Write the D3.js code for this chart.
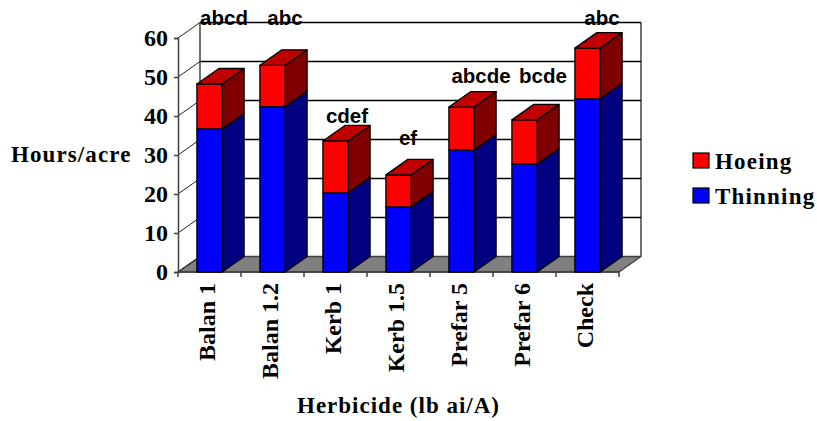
<!DOCTYPE html>
<html><head><meta charset="utf-8">
<script src="https://cdnjs.cloudflare.com/ajax/libs/d3/7.8.5/d3.min.js"></script>
<style>html,body{margin:0;padding:0;background:#fff}svg{display:block}
.serif{font-family:"Liberation Serif",serif;font-weight:bold;fill:#000}
.sans{font-family:"Liberation Sans",sans-serif;font-weight:bold;fill:#000}</style>
</head><body><svg id="c" width="817" height="421"></svg>
<script>
const categories=["Balan 1","Balan 1.2","Kerb 1","Kerb 1.5","Prefar 5","Prefar 6","Check"];
const thinning=[36.7,42.4,20.3,16.7,31.3,27.7,44.4];
const hoeing=[11.5,10.6,13.3,8.2,11,11.3,13];
const letters=["abcd","abc","cdef","ef","abcde","bcde","abc"];
const yTicks=[0,10,20,30,40,50,60];
const seriesNames=["Hoeing","Thinning"];

const svg=d3.select("#c");
const y=d3.scaleLinear().domain([0,60]).range([272,38]);
const x=d3.scaleBand().domain(categories).range([178,619]).paddingInner(0.6).paddingOuter(0.3);
const dx=22,dy=-15.5;
const fronts={Hoeing:"#ff0000",Thinning:"#0000ff"},
      sides={Hoeing:"#800000",Thinning:"#000080"},topColor="#c00000";
const poly=(pts,fill,st)=>svg.append("polygon").attr("points",pts.map(p=>p.join(",")).join(" "))
  .attr("fill",fill).attr("stroke",st||"#000").attr("stroke-width",1.3).attr("stroke-linejoin","round");

const xL=178,xR=619,y0=y(0),yT=y(60);
// floor
poly([[xL,y0],[xR,y0],[xR+dx,y0+dy],[xL+dx,y0+dy]],"#808080","#404040");
// walls
svg.append("line").attr("x1",xL+dx).attr("x2",xL+dx).attr("y1",yT+dy).attr("y2",y0+dy).attr("stroke","#404040").attr("stroke-width",1.5);
svg.append("line").attr("x1",xR+dx).attr("x2",xR+dx).attr("y1",yT+dy).attr("y2",y0+dy).attr("stroke","#404040").attr("stroke-width",1.5);
yTicks.forEach(t=>{
  const yy=y(t);
  if(t>0) svg.append("line").attr("x1",xL+dx).attr("x2",xR+dx).attr("y1",yy+dy).attr("y2",yy+dy).attr("stroke","#000").attr("stroke-width",1.4);
  svg.append("line").attr("x1",xL).attr("x2",xL+dx).attr("y1",yy).attr("y2",yy+dy).attr("stroke","#222").attr("stroke-width",1);
});
// axes
const yAxis=svg.append("g").attr("transform",`translate(${xL},0)`).call(d3.axisLeft(y).tickValues(yTicks).tickSize(4).tickPadding(6));
yAxis.selectAll("path,line").attr("stroke","#404040").attr("stroke-width",1.5);
yAxis.selectAll("text").attr("class","serif").style("font-size","24px").attr("fill","#000");
const tickXs=d3.range(categories.length+1).map(i=>xL+i*(xR-xL)/categories.length);
svg.selectAll(".xt").data(tickXs).join("line").attr("x1",d=>d).attr("x2",d=>d).attr("y1",y0).attr("y2",y0+5).attr("stroke","#404040").attr("stroke-width",1.5);
svg.append("line").attr("x1",xL).attr("x2",xR).attr("y1",y0).attr("y2",y0).attr("stroke","#404040").attr("stroke-width",1.5);

// bars
categories.forEach((c,i)=>{
  const bx=x(c),w=x.bandwidth();
  const a=y(thinning[i]),b=y(thinning[i]+hoeing[i]);
  const seg=(yb,yt,name)=>{
    poly([[bx+w,yb],[bx+w+dx,yb+dy],[bx+w+dx,yt+dy],[bx+w,yt]],sides[name]);
    poly([[bx,yb],[bx+w,yb],[bx+w,yt],[bx,yt]],fronts[name]);
  };
  seg(y0,a,"Thinning"); seg(a,b,"Hoeing");
  poly([[bx,b],[bx+w,b],[bx+w+dx,b+dy],[bx+dx,b+dy]],topColor);
});
// letters
const letterSpots=[[224,25],[285,25],[347,123],[408,145],[481,83],[543,83],[602,25]];
svg.selectAll(".ltr").data(letters).join("text").attr("class","sans").attr("text-anchor","middle")
  .style("font-size","20.5px").attr("x",(d,i)=>letterSpots[i][0]).attr("y",(d,i)=>letterSpots[i][1]).text(d=>d);
// category labels
svg.selectAll(".cat").data(categories).join("text").attr("class","serif").attr("text-anchor","end")
  .style("font-size","24px")
  .attr("transform",d=>`translate(${x(d)+x.bandwidth()/2+5.5},283) rotate(-90)`).text(d=>d);
// titles
svg.append("text").attr("class","serif").attr("x",11).attr("y",162).style("font-size","23px").style("letter-spacing","1.1px").text("Hours/acre");
svg.append("text").attr("class","serif").attr("x",297).attr("y",412.5).style("font-size","23px").style("letter-spacing","1px").text("Herbicide (lb ai/A)");
// legend
seriesNames.forEach((n,i)=>{
  const ly=153+i*35;
  svg.append("rect").attr("x",693).attr("y",ly).attr("width",16).attr("height",15).attr("fill",fronts[n]).attr("stroke","#000").attr("stroke-width",1.2);
  svg.append("text").attr("class","serif").attr("x",715).attr("y",ly+16).style("font-size","23px").style("letter-spacing","1.2px").text(n);
});
</script></body></html>
